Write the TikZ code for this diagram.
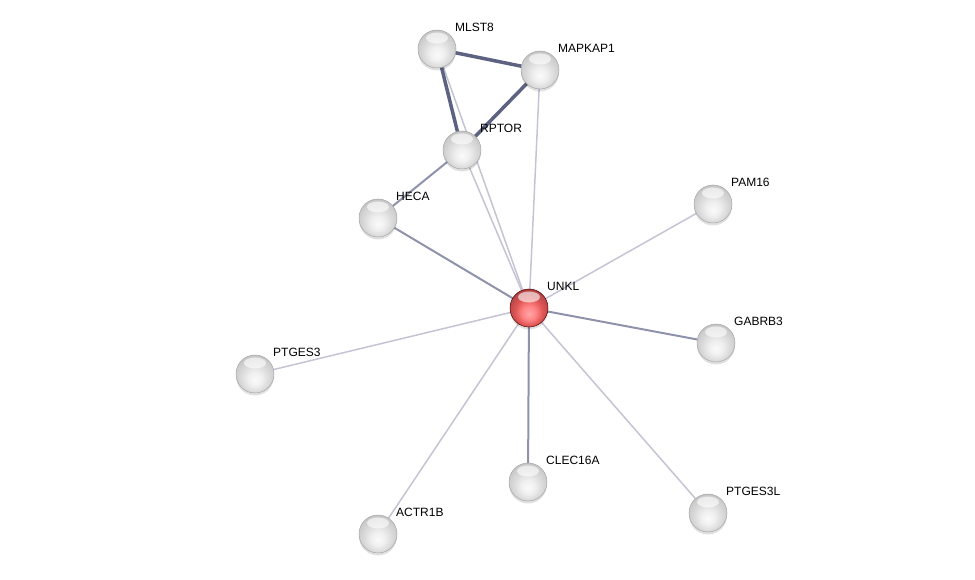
\documentclass[tikz,border=0pt]{standalone}
\usepackage{fontspec}
\setmainfont{Liberation Sans}
\usetikzlibrary{shadings}
\definecolor{edgedark}{HTML}{5C6280}
\definecolor{edgemid}{HTML}{8E92AA}
\definecolor{edgelight}{HTML}{C4C4D4}
\pgfdeclareradialshading{sphgray}{\pgfpoint{0bp}{-8bp}}{color(0bp)=(gray!4); color(9bp)=(gray!12); color(18bp)=(gray!28); color(27bp)=(gray!42); color(33bp)=(gray!62); color(50bp)=(gray!70)}
\pgfdeclareradialshading{sphred}{\pgfpoint{0bp}{-8bp}}{color(0bp)=(red!35!white); color(9bp)=(red!48!white); color(18bp)=(red!62!white!88!black); color(27bp)=(red!60!white!70!black); color(33bp)=(red!50!black); color(50bp)=(red!40!black)}
\tikzset{
  sphbase/.style={circle, minimum size=38pt, inner sep=0pt,
    path picture={
      \fill[white, opacity=0.6] ([yshift=11pt]path picture bounding box.center) ellipse [x radius=11pt, y radius=5.5pt];
    }},
  prot/.style={sphbase, shading=sphgray, draw=gray!70, line width=0.5pt},
  query/.style={sphbase, shading=sphred, draw=red!35!black, line width=0.5pt},
  shadowdot/.style={fill=black, opacity=0.12},
  lbl/.style={anchor=south west, inner sep=0pt, font=\fontsize{12}{14}\selectfont},
  strong/.style={draw=edgedark, line width=3.5pt},
  medium/.style={draw=edgemid, line width=2pt},
  weak/.style={draw=edgelight, line width=1.5pt}
}
\begin{document}
\begin{tikzpicture}[x=1pt,y=-1pt]
\useasboundingbox (0,0) rectangle (975,580);
% coordinates for node centres
\coordinate (cMLST8) at (437,49);
\coordinate (cMAPKAP1) at (540,70);
\coordinate (cRPTOR) at (462,150);
\coordinate (cHECA) at (378,218);
\coordinate (cPAM16) at (713,204);
\coordinate (cUNKL) at (529,308);
\coordinate (cGABRB3) at (716,343);
\coordinate (cPTGES3) at (255,374);
\coordinate (cCLEC16A) at (528,482);
\coordinate (cPTGES3L) at (708,513);
\coordinate (cACTR1B) at (378,534);
% edges
\draw[weak] (cMLST8) -- (cUNKL);
\draw[weak] (cMAPKAP1) -- (cUNKL);
\draw[weak] (cRPTOR) -- (cUNKL);
\draw[strong] (cMLST8) -- (cMAPKAP1);
\draw[strong] (cMLST8) -- (cRPTOR);
\draw[strong] (cMAPKAP1) -- (cRPTOR);
\draw[medium] (cRPTOR) -- (cHECA);
\draw[medium] (cHECA) -- (cUNKL);
\draw[weak] (cUNKL) -- (cPAM16);
\draw[medium] (cUNKL) -- (cGABRB3);
\draw[weak] (cUNKL) -- (cPTGES3);
\draw[medium] (cUNKL) -- (cCLEC16A);
\draw[weak] (cUNKL) -- (cPTGES3L);
\draw[weak] (cUNKL) -- (cACTR1B);
% shadows
\foreach \c in {cMLST8,cMAPKAP1,cRPTOR,cHECA,cPAM16,cUNKL,cGABRB3,cPTGES3,cCLEC16A,cPTGES3L,cACTR1B}{
  \fill[shadowdot] ([yshift=-2.5pt]\c) circle [radius=19pt];
}
% nodes
\node[prot] (MLST8) at (cMLST8) {};
\node[prot] (MAPKAP1) at (cMAPKAP1) {};
\node[prot] (RPTOR) at (cRPTOR) {};
\node[prot] (HECA) at (cHECA) {};
\node[prot] (PAM16) at (cPAM16) {};
\node[query] (UNKL) at (cUNKL) {};
\node[prot] (GABRB3) at (cGABRB3) {};
\node[prot] (PTGES3) at (cPTGES3) {};
\node[prot] (CLEC16A) at (cCLEC16A) {};
\node[prot] (PTGES3L) at (cPTGES3L) {};
\node[prot] (ACTR1B) at (cACTR1B) {};
% labels
\node[lbl] (tMLST8) at ([shift={(18,-17)}]cMLST8) {MLST8};
\node[lbl] (tMAPKAP1) at ([shift={(18,-17)}]cMAPKAP1) {MAPKAP1};
\node[lbl] (tRPTOR) at ([shift={(18,-17)}]cRPTOR) {RPTOR};
\node[lbl] (tHECA) at ([shift={(18,-17)}]cHECA) {HECA};
\node[lbl] (tPAM16) at ([shift={(18,-17)}]cPAM16) {PAM16};
\node[lbl] (tUNKL) at ([shift={(18,-17)}]cUNKL) {UNKL};
\node[lbl] (tGABRB3) at ([shift={(18,-17)}]cGABRB3) {GABRB3};
\node[lbl] (tPTGES3) at ([shift={(18,-17)}]cPTGES3) {PTGES3};
\node[lbl] (tCLEC16A) at ([shift={(18,-17)}]cCLEC16A) {CLEC16A};
\node[lbl] (tPTGES3L) at ([shift={(18,-17)}]cPTGES3L) {PTGES3L};
\node[lbl] (tACTR1B) at ([shift={(18,-17)}]cACTR1B) {ACTR1B};
\end{tikzpicture}
\end{document}
